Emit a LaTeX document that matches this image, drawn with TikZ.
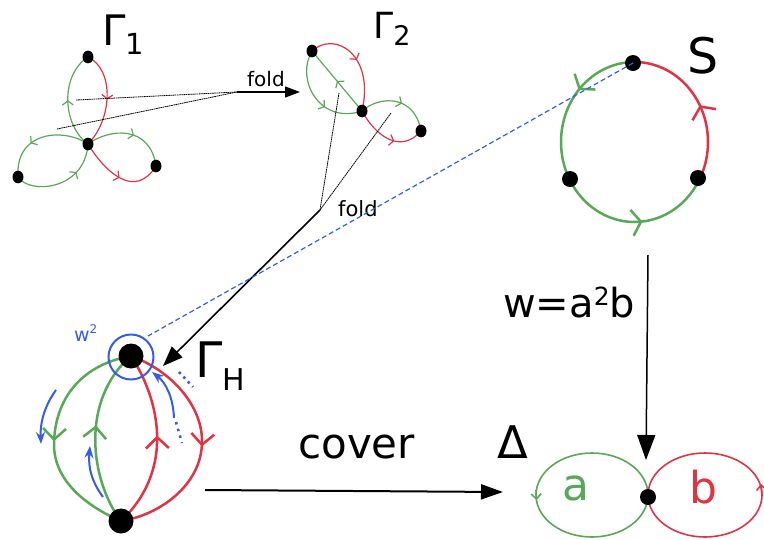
\documentclass[tikz,border=0pt]{standalone}
\usepackage{fontspec}
\setmainfont{DejaVu Sans}
\usetikzlibrary{arrows.meta,decorations.markings}
\definecolor{gG}{RGB}{88,168,88}
\definecolor{rR}{RGB}{222,52,68}
\definecolor{bB}{RGB}{55,92,228}
\tikzset{
  chA/.tip={Straight Barb[length=4pt,width=11pt]},
  chS/.tip={Straight Barb[length=9pt,width=26pt]},
  chH/.tip={Straight Barb[length=11pt,width=23pt]},
  chD/.tip={Straight Barb[length=5pt,width=10pt]},
  mk/.style 2 args={postaction={decorate},decoration={markings,mark=at position #1 with {\arrow{#2}}}},
  thinedge/.style={line width=1.2pt},
  hedge/.style={line width=2.5pt},
  sedge/.style={line width=2.5pt},
  dotA/.style={ellipse dot},
  ellipse dot/.style={circle,fill=black,inner sep=0pt,minimum size=11pt,yscale=1.15},
  dotS/.style={circle,fill=black,inner sep=0pt,minimum size=16pt},
  dotH/.style={circle,fill=black,inner sep=0pt,minimum size=25pt},
  dotD/.style={circle,fill=black,inner sep=0pt,minimum size=16pt},
  foldline/.style={line width=0.8pt,dash pattern=on 1.6pt off 0.6pt},
  lbl/.style={inner sep=0pt,anchor=base west},
  barrow/.style={bB,line width=2pt,-{Stealth[length=12pt,width=9pt]}},
}
\begin{document}
\begin{tikzpicture}[x=1pt,y=-1pt]
\useasboundingbox (0,0) rectangle (764,539);

% ---------- Gamma_1 ----------
\coordinate (t1) at (88,57);
\coordinate (c1) at (88,144);
\coordinate (l1) at (18,177);
\coordinate (r1) at (156,166);
\draw[gG,thinedge,mk={0.5}{chA}] (c1) .. controls (62,125) and (60,75) .. (t1);
\draw[rR,thinedge,mk={0.5}{chA}] (t1) .. controls (115,70) and (112,120) .. (c1);
\draw[gG,thinedge,mk={0.62}{chA}] (c1) .. controls (65,128) and (15,130) .. (l1);
\draw[gG,thinedge,mk={0.68}{chA}] (l1) .. controls (30,195) and (85,190) .. (c1);
\draw[gG,thinedge,mk={0.55}{chA}] (c1) .. controls (110,128) and (150,125) .. (r1);
\draw[rR,thinedge,mk={0.52}{chA}] (c1) .. controls (105,172) and (135,200) .. (r1);
\node[dotA] (T1) at (t1) {};
\node[dotA] (C1) at (c1) {};
\node[dotA] (L1) at (l1) {};
\node[dotA] (R1) at (r1) {};
\node[lbl] (g1) at (102,45) {\fontsize{42}{42}\selectfont Γ\raisebox{-9pt}{\fontsize{29}{29}\selectfont 1}};

% ---------- Gamma_2 ----------
\coordinate (a2) at (312,51);
\coordinate (m2) at (362,111);
\coordinate (b2) at (421,131);
\draw[rR,thinedge,mk={0.5}{chA}] (a2) .. controls (335,30) and (375,55) .. (m2);
\draw[gG,thinedge,mk={0.5}{chA}] (m2) -- (a2);
\draw[gG,thinedge,mk={0.62}{chA}] (a2) .. controls (295,80) and (320,125) .. (m2);
\draw[gG,thinedge,mk={0.55}{chA}] (m2) .. controls (380,95) and (415,95) .. (b2);
\draw[rR,thinedge,mk={0.6}{chA}] (m2) .. controls (375,135) and (400,155) .. (b2);
\node[dotA] (A2) at (a2) {};
\node[dotA] (M2) at (m2) {};
\node[dotA] (B2) at (b2) {};
\node[lbl] (g2) at (373,38) {\fontsize{36}{36}\selectfont Γ\raisebox{-7pt}{\fontsize{27}{27}\selectfont 2}};

% ---------- fold 1 ----------
\coordinate (f1a) at (76,100);
\coordinate (f1b) at (57,129);
\coordinate (j1) at (237,92);
\coordinate (e1) at (300,92);
\draw[foldline] (f1a) -- (j1);
\draw[foldline] (f1b) -- (j1);
\draw[line width=1.2pt,-{Triangle[length=15pt,width=11pt]}] (j1) -- (e1);
\node[lbl] (fold1) at (247,86) {\fontsize{20}{20}\selectfont fold};

% ---------- fold 2 ----------
\coordinate (f2a) at (339,93);
\coordinate (f2b) at (391,113);
\coordinate (j2) at (320,210);
\coordinate (e2) at (163,366);
\draw[foldline] (f2a) -- (j2);
\draw[foldline] (f2b) -- (j2);
\draw[line width=1.6pt,-{Triangle[length=20pt,width=15pt]}] (j2) -- (e2);
\node[lbl] (fold2) at (338,216) {\fontsize{21}{21}\selectfont fold};

% ---------- S ----------
\coordinate (sT) at (633,63);
\coordinate (sL) at (570,179);
\coordinate (sR) at (698,178);
\draw[gG,sedge,postaction={decorate},decoration={markings,mark=at position 0.2 with {\arrow{chS}},mark=at position 0.77 with {\arrow{chS}}}]
  plot[domain=90:332.5,samples=90] ({634.5+73.5*cos(\x)},{142-80*sin(\x)});
\draw[rR,sedge,mk={0.48}{chS}]
  plot[domain=-27.5:90,samples=60] ({634.5+73.5*cos(\x)},{142-80*sin(\x)});
\node[dotS] (ST) at (sT) {};
\node[dotS] (SL) at (sL) {};
\node[dotS] (SR) at (sR) {};
\node[lbl] (slab) at (687,73) {\fontsize{49}{49}\selectfont S};

% ---------- blue dashed ----------
\coordinate (bh) at (148,336);
\draw[bB,line width=1.2pt,dash pattern=on 5pt off 3pt] (sT) -- (bh);

% ---------- w = a^2 b arrow ----------
\coordinate (v1) at (648,255);
\coordinate (v2) at (646,460);
\draw[line width=1.5pt,-{Triangle[length=25pt,width=18pt]}] (v1) -- (v2);
\node[lbl] (wlab) at (503,317) {\fontsize{40}{40}\selectfont w=a\raisebox{12pt}{\fontsize{25}{25}\selectfont 2}b};

% ---------- Gamma_H ----------
\coordinate (hT) at (131,356);
\coordinate (hB) at (121,521);
\draw[gG,hedge,mk={0.53}{chH}] (hT) .. controls (80,365) and (55,400) .. (54,443) .. controls (53,485) and (95,510) .. (hB);
\draw[gG,hedge,mk={0.56}{chH}] (hB) .. controls (90,480) and (80,400) .. (hT);
\draw[rR,hedge,mk={0.53}{chH}] (hB) .. controls (175,470) and (160,400) .. (hT);
\draw[rR,hedge,mk={0.51}{chH}] (hT) .. controls (170,370) and (203,405) .. (202,443) .. controls (201,485) and (160,515) .. (hB);
\node[dotH] (HT) at (hT) {};
\node[dotH] (HB) at (hB) {};
\node[draw=bB,line width=2pt,circle,minimum size=45pt,inner sep=0pt] (hc) at (131,357) {};
\node[lbl,text=bB] (w2) at (74,341) {\fontsize{19}{19}\selectfont w\raisebox{8pt}{\fontsize{12}{12}\selectfont 2}};
\node[lbl] (gh) at (195,377) {\fontsize{49}{49}\selectfont Γ\raisebox{-13pt}{\fontsize{30}{30}\selectfont H}};
% blue arrows
\coordinate (ba1) at (56,390);
\coordinate (ba1e) at (41,444);
\draw[barrow] (ba1) .. controls (46,404) and (40,420) .. (ba1e);
\coordinate (ba2) at (103,497);
\coordinate (ba2e) at (90,446);
\draw[barrow] (ba2) .. controls (92,482) and (88,468) .. (ba2e);
\coordinate (ba3) at (174,418);
\coordinate (ba3e) at (152,372);
\draw[barrow] (ba3) .. controls (173,397) and (166,383) .. (ba3e);
\draw[bB,line width=2.6pt,dash pattern=on 2.5pt off 4pt] (179,372) -- (193,387);
\draw[bB,line width=2.6pt,dash pattern=on 2.5pt off 4.5pt] (176,422) -- (182,443);

% ---------- cover ----------
\coordinate (cv1) at (205,490);
\coordinate (cv2) at (503,492);
\draw[line width=2pt,-{Triangle[length=22pt,width=15pt]}] (cv1) -- (cv2);
\node[lbl] (cover) at (298,458) {\fontsize{42}{42}\selectfont cover};

% ---------- Delta ----------
\coordinate (dv) at (648,497);
\draw[gG,line width=1.6pt] (592,495) ellipse [x radius=56,y radius=42];
\draw[rR,line width=1.6pt] (705,495) ellipse [x radius=57,y radius=42];
\draw[gG,line width=1.6pt,-{chD}] (536,490) -- (536.5,500);
\draw[rR,line width=1.6pt,-{chD}] (762,496) -- (761,484);
\node[dotD] (DV) at (dv) {};
\node[lbl] (dlab) at (497,458) {\fontsize{45}{45}\selectfont Δ};
\node[lbl,text=gG] (alab) at (562,500) {\fontsize{44}{44}\selectfont a};
\node[lbl,text=rR] (blab) at (689,503) {\fontsize{44}{44}\selectfont b};
\end{tikzpicture}
\end{document}
